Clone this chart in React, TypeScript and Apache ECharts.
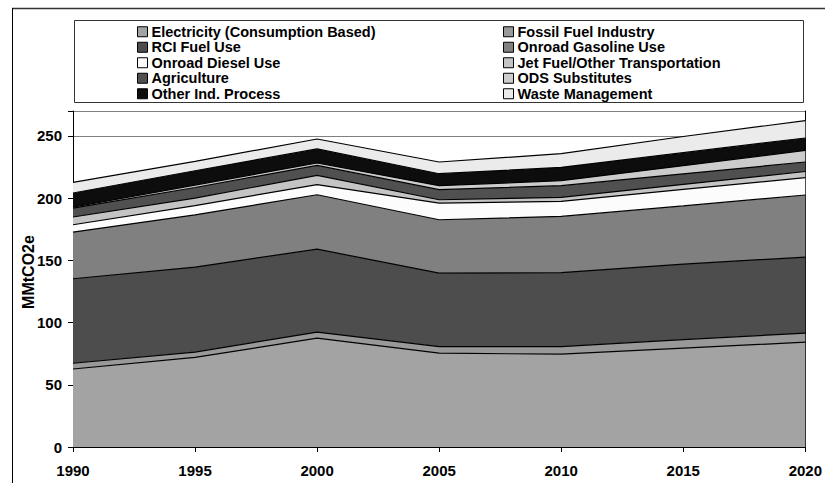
import React, { useEffect, useRef } from "react";
import * as echarts from "echarts";

const years = ["1990", "1995", "2000", "2005", "2010", "2015", "2020"];

const electricity = [62.7, 72.0, 87.5, 75.4, 74.6, 79.5, 84.2];
const fossilFuel = [4.6, 4.3, 4.8, 5.3, 6.1, 6.8, 7.3];
const rciFuel = [67.9, 68.3, 66.7, 59.0, 59.5, 60.7, 61.1];
const onroadGasoline = [37.5, 42.0, 43.7, 42.9, 45.1, 46.7, 49.9];
const onroadDiesel = [5.9, 7.4, 8.1, 13.4, 12.0, 13.3, 14.0];
const jetFuel = [6.2, 6.0, 7.5, 2.7, 3.3, 4.0, 4.9];
const agriculture = [7.2, 8.5, 8.0, 8.1, 9.4, 8.5, 7.6];
const odsSubstitutes = [0.8, 2.0, 1.9, 3.2, 4.0, 6.6, 9.3];
const otherIndProcess = [11.3, 11.5, 11.3, 9.6, 10.7, 10.4, 10.0];
const wasteManagement = [8.5, 7.5, 8.0, 9.4, 11.0, 13.0, 14.0];

const yTicks = [0, 50, 100, 150, 200, 250];

const seriesDefs = [
  { name: "Electricity (Consumption Based)", data: electricity, color: "#a3a3a3" },
  { name: "Fossil Fuel Industry", data: fossilFuel, color: "#999999" },
  { name: "RCI Fuel Use", data: rciFuel, color: "#4d4d4d" },
  { name: "Onroad Gasoline Use", data: onroadGasoline, color: "#808080" },
  { name: "Onroad Diesel Use", data: onroadDiesel, color: "#fcfcfc" },
  { name: "Jet Fuel/Other Transportation", data: jetFuel, color: "#c4c4c4" },
  { name: "Agriculture", data: agriculture, color: "#505050" },
  { name: "ODS Substitutes", data: odsSubstitutes, color: "#cccccc" },
  { name: "Other Ind. Process", data: otherIndProcess, color: "#0d0d0d" },
  { name: "Waste Management", data: wasteManagement, color: "#ebebeb" },
];

const FONT = "'Liberation Sans', Arial, sans-serif";

export default function App() {
  const ref = useRef<HTMLDivElement>(null);

  useEffect(() => {
    if (!ref.current) return;
    const chart = echarts.init(ref.current, undefined, { renderer: "svg" });
    const legendCommon = {
      orient: "vertical" as const,
      top: 24,
      padding: 0,
      itemWidth: 10,
      itemHeight: 10,
      itemGap: 0,
      icon: "rect",
      itemStyle: { borderColor: "#000", borderWidth: 1 },
      textStyle: {
        fontFamily: FONT,
        fontWeight: "bold" as const,
        fontSize: 14.5,
        lineHeight: 15.5,
        height: 15.5,
        color: "#000",
        padding: [0, 0, 0, -1],
      },
      selectedMode: false,
    };
    chart.setOption({
      animation: false,
      backgroundColor: "#fff",
      textStyle: { fontFamily: FONT },
      grid: { left: 73, right: 18, top: 111, bottom: 36, containLabel: false },
      legend: [
        { ...legendCommon, left: 137, data: [seriesDefs[0].name, seriesDefs[2].name, seriesDefs[4].name, seriesDefs[6].name, seriesDefs[8].name] },
        { ...legendCommon, left: 503, data: [seriesDefs[1].name, seriesDefs[3].name, seriesDefs[5].name, seriesDefs[7].name, seriesDefs[9].name] },
      ],
      graphic: [
        { type: "line", shape: { x1: 12, y1: 8.5, x2: 825, y2: 8.5 }, style: { stroke: "#333", lineWidth: 1.5 }, silent: true },
        { type: "line", shape: { x1: 12.5, y1: 8, x2: 12.5, y2: 483 }, style: { stroke: "#000", lineWidth: 1 }, silent: true },
        { type: "rect", shape: { x: 74.5, y: 20.5, width: 729, height: 82 }, style: { fill: "none", stroke: "#333", lineWidth: 1 }, silent: true },
      ],
      xAxis: {
        type: "category",
        data: years,
        boundaryGap: false,
        axisLine: { lineStyle: { color: "#000", width: 1 } },
        axisTick: { show: true, length: 5, lineStyle: { color: "#000" } },
        axisLabel: { color: "#000", fontWeight: "bold", fontSize: 15, margin: 16, fontFamily: FONT },
        splitLine: { show: false },
      },
      yAxis: [
        {
          type: "value",
          min: 0,
          max: 270,
          interval: 50,
          name: "MMtCO2e",
          nameLocation: "middle",
          nameGap: 37,
          nameRotate: 90,
          nameMoveOverlap: false,
          nameTextStyle: { color: "#000", fontWeight: "bold", fontSize: 16, fontFamily: FONT, padding: [0, 0, 0, 14] },
          axisLine: { show: true, lineStyle: { color: "#000", width: 1 } },
          axisTick: { show: true, length: 5, lineStyle: { color: "#000" } },
          axisLabel: {
            color: "#000",
            fontWeight: "bold",
            fontSize: 15,
            margin: 11,
            fontFamily: FONT,
            formatter: (v: number) => (yTicks.includes(v) ? String(v) : ""),
          },
          splitLine: { show: true, lineStyle: { color: "#808080", width: 1 } },
        },
        {
          type: "value",
          position: "right",
          min: 0,
          max: 270,
          interval: 50,
          axisLine: { show: true, lineStyle: { color: "#000", width: 1 } },
          axisTick: { show: false },
          axisLabel: { show: false },
          splitLine: { show: false },
        },
      ],
      series: seriesDefs.map((s) => ({
        name: s.name,
        type: "line",
        stack: "total",
        data: s.data,
        symbol: "none",
        showSymbol: false,
        itemStyle: { color: s.color },
        lineStyle: { color: "#000", width: 1.2 },
        areaStyle: { color: s.color, opacity: 1 },
      })),
    });
    return () => chart.dispose();
  }, []);

  return (
    <div
      ref={ref}
      style={{ position: "fixed", left: 0, top: 0, width: 825, height: 483 }}
    />
  );
}
